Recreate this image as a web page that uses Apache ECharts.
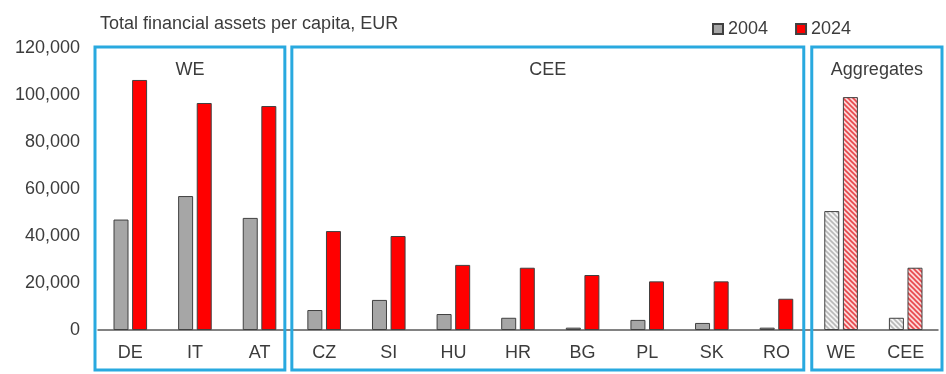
<!DOCTYPE html>
<html><head><meta charset="utf-8">
<script src="https://cdn.jsdelivr.net/npm/echarts@6/dist/echarts.min.js"></script>
<style>html,body{margin:0;padding:0;background:#fff}#c{width:946px;height:374px}</style>
</head><body><div id="c"></div>
<script>
// ---- data ----
const categories = ['DE','IT','AT','CZ','SI','HU','HR','BG','PL','SK','RO','WE','CEE'];
const values2004 = [47000,57000,47700,8500,12800,6800,5200,1000,4300,3000,1000,50600,5200];
const values2024 = [106400,96600,95300,42100,40000,27700,26500,23400,20700,20700,13300,99100,26500];
const seriesNames = ['2004','2024'];
const groupNames = ['WE','CEE','Aggregates'];
const groupFirst = [0,3,11];
const groupLast = [2,10,12];
const aggregateStart = 11;
const titleText = 'Total financial assets per capita, EUR';

// ---- style / layout ----
const FONT = '"Liberation Sans", Arial, sans-serif';
const TXT = '#3c3c3c';
const BOX = '#29a9df';
const boxInsetL = [-3, 0, 3];
const boxInsetR = [-7, -5, 4];

function hatch(bg, fg) {
  const s = 5, c = document.createElement('canvas');
  c.width = s; c.height = s;
  const g = c.getContext('2d');
  g.fillStyle = bg; g.fillRect(0, 0, s, s);
  g.strokeStyle = fg; g.lineWidth = 1.6;
  g.beginPath();
  g.moveTo(0, 0); g.lineTo(s, s);
  g.moveTo(-s, 0); g.lineTo(s, 2 * s);
  g.moveTo(0, -s); g.lineTo(2 * s, s);
  g.stroke();
  return c;
}
const grayHatch = hatch('#f4f4f4', '#b8b8b8');
const redHatch = hatch('#fcd6d6', '#e8474b');

function buildData(vals, pattern) {
  return vals.map((v, i) => i >= aggregateStart
    ? { value: v, itemStyle: { color: { image: pattern, repeat: 'repeat' } } }
    : v);
}

const chart = echarts.init(document.getElementById('c'), null, { renderer: 'canvas' });
const option = {
  animation: false,
  textStyle: { fontFamily: FONT },
  title: { text: titleText, left: 95, top: 10,
    textStyle: { fontFamily: FONT, fontSize: 18, fontWeight: 'normal', color: TXT } },
  legend: { left: 707, top: 15, itemWidth: 10, itemHeight: 10, itemGap: 27, icon: 'rect',
    textStyle: { fontFamily: FONT, fontSize: 18, color: TXT } },
  grid: { left: 98, right: 8, top: 48, bottom: 44 },
  xAxis: { type: 'category', data: categories,
    axisTick: { show: false },
    axisLine: { lineStyle: { color: '#5a5a5a', width: 1.5 } },
    axisLabel: { interval: 0, fontFamily: FONT, fontSize: 18, color: TXT, margin: 14 } },
  yAxis: { type: 'value', min: 0, max: 120000, interval: 20000,
    splitLine: { show: false }, axisLine: { show: false }, axisTick: { show: false },
    axisLabel: { fontFamily: FONT, fontSize: 18, color: TXT, margin: 18,
      formatter: v => v.toLocaleString('en-US') } },
  series: [
    { name: seriesNames[0], type: 'bar', barWidth: 15, barGap: '24%',
      itemStyle: { color: '#a6a6a6', borderColor: '#404040', borderWidth: 1 },
      data: buildData(values2004, grayHatch) },
    { name: seriesNames[1], type: 'bar', barWidth: 15, barGap: '24%',
      itemStyle: { color: '#ff0000', borderColor: '#404040', borderWidth: 1 },
      data: buildData(values2024, redHatch) }
  ]
};
chart.setOption(option);

const step = chart.convertToPixel({ xAxisIndex: 0 }, categories[1]) - chart.convertToPixel({ xAxisIndex: 0 }, categories[0]);
const yTop = chart.convertToPixel({ yAxisIndex: 0 }, 120000);
const yBottom = 370;
const graphics = [];
groupNames.forEach((name, k) => {
  const l = chart.convertToPixel({ xAxisIndex: 0 }, categories[groupFirst[k]]) - step / 2 + boxInsetL[k];
  const r = chart.convertToPixel({ xAxisIndex: 0 }, categories[groupLast[k]]) + step / 2 + boxInsetR[k];
  graphics.push({ type: 'rect', z: 10, silent: true,
    shape: { x: l, y: yTop - 1, width: r - l, height: yBottom - yTop + 1 },
    style: { fill: 'none', stroke: BOX, lineWidth: 3 } });
  graphics.push({ type: 'text', z: 10, silent: true, x: (l + r) / 2, y: yTop + 22,
    style: { text: name, fontFamily: FONT, fontSize: 18, fill: TXT, align: 'center', verticalAlign: 'middle' } });
});
chart.setOption({ graphic: graphics });
</script></body></html>
